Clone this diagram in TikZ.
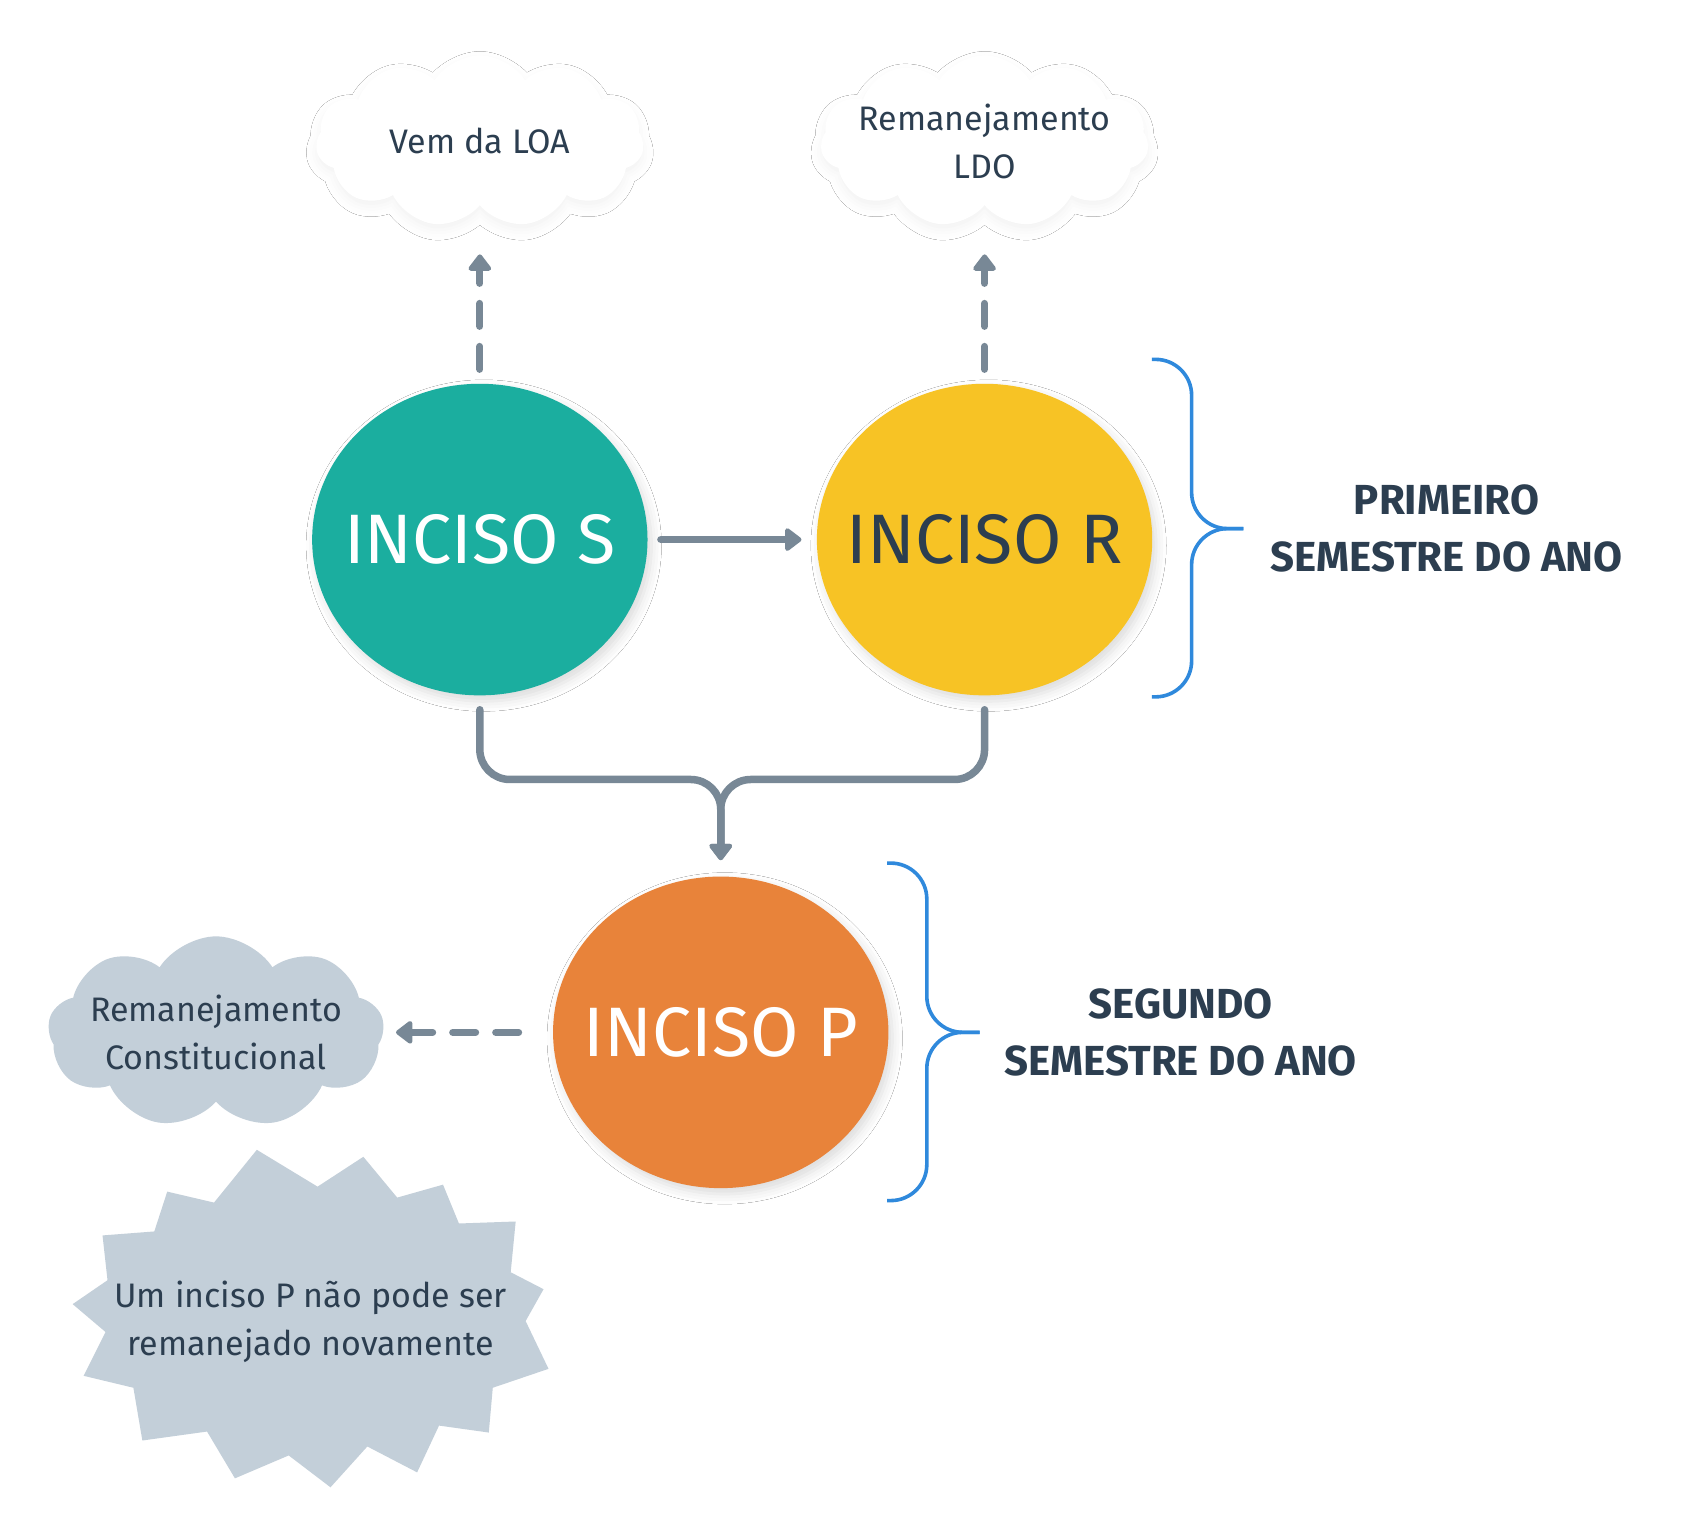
\documentclass[tikz,border=0pt]{standalone}
\usepackage{fontspec}
\setmainfont{Fira Sans}
\usetikzlibrary{arrows.meta}
\usetikzlibrary{shapes.geometric}
\usetikzlibrary{shapes.symbols}
\usetikzlibrary{shadows.blur}

\definecolor{incisoS}{RGB}{27,174,159}
\definecolor{incisoR}{RGB}{247,195,37}
\definecolor{incisoP}{RGB}{232,131,58}
\definecolor{linegray}{RGB}{120,136,150}
\definecolor{braceblue}{RGB}{47,137,220}
\definecolor{textdark}{RGB}{44,62,80}
\definecolor{notegray}{RGB}{195,207,217}

\begin{document}
\begin{tikzpicture}[x=0.4978pt,y=-0.4978pt,
    inciso/.style={ellipse,minimum width=167.7pt,minimum height=155.8pt,inner sep=0pt,
      font=\fontsize{35}{42}\selectfont,
      blur shadow={shadow xshift=2pt,shadow yshift=-3pt,shadow blur radius=5pt,shadow opacity=14}},
    nuvem/.style={cloud,cloud puffs=11,cloud puff arc=115,aspect=1.9,minimum width=164pt,
      minimum height=86pt,inner xsep=-45pt,inner ysep=-25pt,align=center,text=textdark,
      font=\fontsize{17}{24}\selectfont},
    nuvemw/.style={nuvem,fill=white,
      blur shadow={shadow xshift=0pt,shadow yshift=-3pt,shadow blur radius=5pt,shadow opacity=5}},
    conn/.style={draw=linegray,line width=3.75pt,line cap=round,
      -{Triangle[length=9pt,width=13pt,round]}},
    dashconn/.style={conn,line width=3.5pt,dash pattern=on 11.5pt off 10pt},
    brace/.style={draw=braceblue,line width=1.8pt,rounded corners=18pt},
    semestre/.style={align=center,text=textdark,font=\bfseries\fontsize{21}{28.5}\selectfont}]
  \useasboundingbox[fill=white] (0,0) rectangle (1713.7,1543);

  % first semester
  \node[inciso,fill=incisoS,text=white] (S) at (482,542) {\makebox[0pt]{INCISO S}};
  \node[inciso,fill=incisoR,text=textdark] (R) at (989,542) {\makebox[0pt]{INCISO R}};
  \node[nuvemw] (loa) at (482,142) {Vem da LOA};
  \node[nuvemw] (ldo) at (989,142) {Remanejamento\\LDO};
  \node[semestre] (prim) at (1453,531) {PRIMEIRO\\SEMESTRE DO ANO};

  % second semester
  \node[inciso,fill=incisoP,text=white] (P) at (724,1037) {\makebox[0pt]{INCISO P}};
  \node[nuvem,fill=notegray,cloud puffs=9,minimum width=168pt,minimum height=96pt] (const) at (217,1037) {Remanejamento\\Constitucional};
  \node[semestre] (seg) at (1186,1037) {SEGUNDO\\SEMESTRE DO ANO};

  \fill[notegray] (258,1155) -- (319,1192) -- (365,1162) -- (399,1203) -- (445,1190)
    -- (461,1229) -- (518,1227) -- (513,1278) -- (546,1295) -- (528,1327) -- (551,1375)
    -- (495,1394) -- (491,1439) -- (441,1432) -- (419,1479) -- (369,1453) -- (332,1494)
    -- (290,1462) -- (236,1485) -- (208,1438) -- (143,1447) -- (134,1394) -- (84,1382)
    -- (106,1338) -- (73,1310) -- (108,1286) -- (103,1241) -- (155,1237) -- (168,1197)
    -- (215,1208) -- cycle;
  \node[align=center,text=textdark,font=\fontsize{17}{24}\selectfont] (nota) at (312,1328)
    {Um inciso P não pode ser\\remanejado novamente};

  % connectors
  \coordinate (join) at (724,783);
  \draw[dashconn,shorten <=7pt,shorten >=56.5pt] (S.north) -- (loa.center);
  \draw[dashconn,shorten <=7pt,shorten >=56.5pt] (R.north) -- (ldo.center);
  \draw[conn,shorten <=6.5pt,shorten >=7.5pt] (S) -- (R);
  \draw[conn,rounded corners=15pt,shorten <=7pt,shorten >=8pt] (S.south) -- (S.south |- join) -- (join) -- (P.north);
  \draw[conn,rounded corners=15pt,shorten <=7pt,shorten >=8pt] (R.south) -- (R.south |- join) -- (join) -- (P.north);
  \draw[dashconn,shorten <=17pt,shorten >=90pt] (P.west) -- (const.center);

  % braces
  \draw[brace] (1157,361) -| (1197,531) -- (1249,531);
  \draw[brace] (1157,700) -| (1197,531) -- (1249,531);
  \draw[brace] (891,867) -| (931,1037) -- (984,1037);
  \draw[brace] (891,1206) -| (931,1037) -- (984,1037);
\end{tikzpicture}
\end{document}
